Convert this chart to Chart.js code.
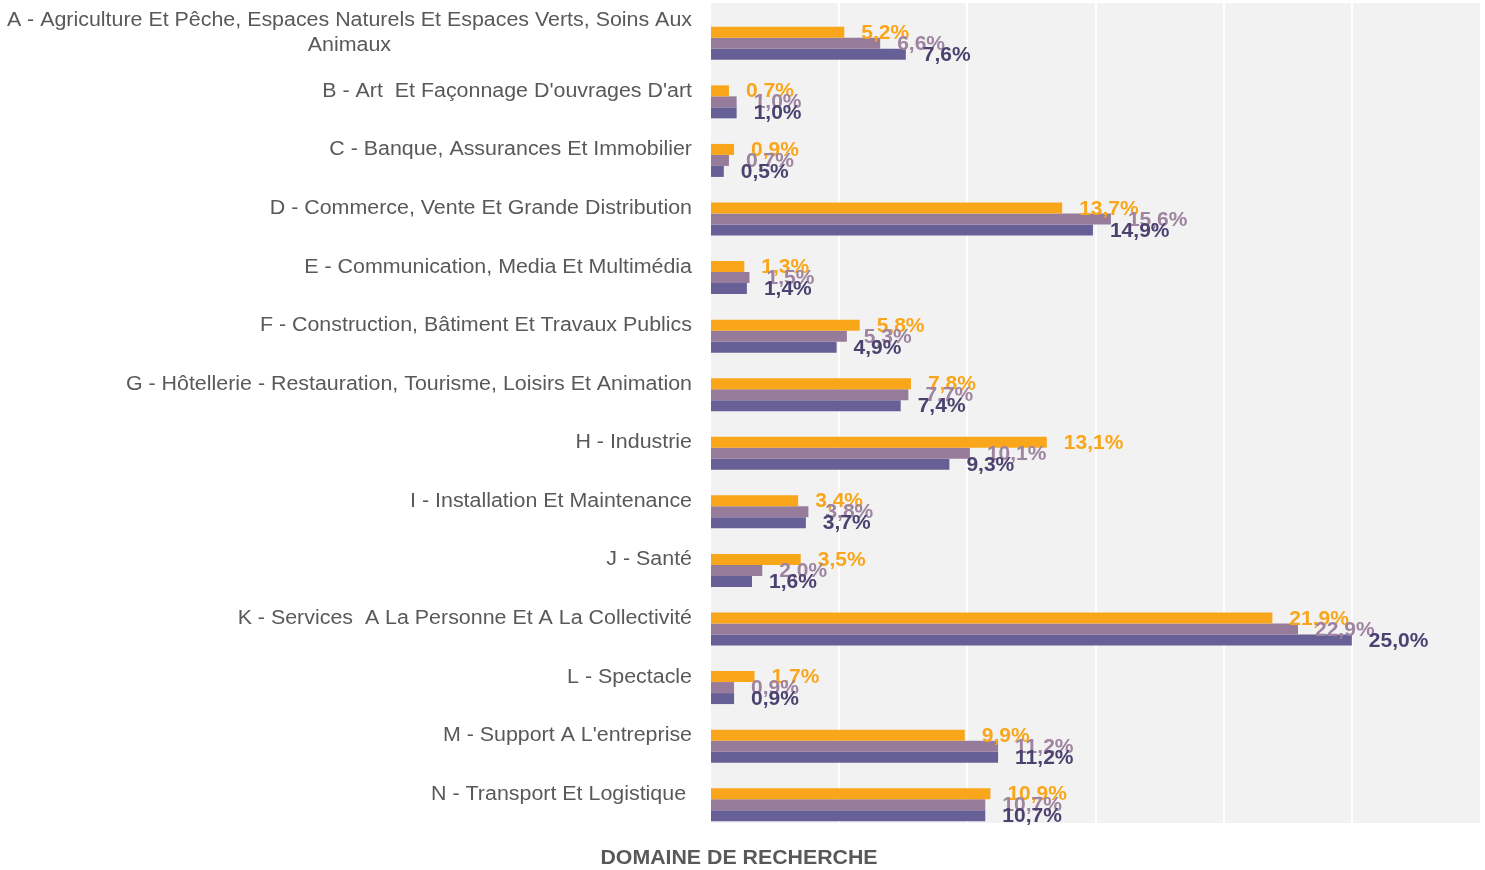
<!DOCTYPE html>
<html><head><meta charset="utf-8">
<script src="https://cdn.jsdelivr.net/npm/chart.js@4/dist/chart.umd.min.js"></script>
<style>html,body{margin:0;padding:0;background:#fff;}#wrap{width:1485px;height:870px;position:relative;}</style>
</head><body><div id="wrap"><canvas id="c"></canvas></div>
<script>
const categories = [
  ['A - Agriculture Et Pêche, Espaces Naturels Et Espaces Verts, Soins Aux', 'Animaux'],
  "B - Art  Et Façonnage D'ouvrages D'art",
  'C - Banque, Assurances Et Immobilier',
  'D - Commerce, Vente Et Grande Distribution',
  'E - Communication, Media Et Multimédia',
  'F - Construction, Bâtiment Et Travaux Publics',
  'G - Hôtellerie - Restauration, Tourisme, Loisirs Et Animation',
  'H - Industrie',
  'I - Installation Et Maintenance',
  'J - Santé',
  'K - Services  A La Personne Et A La Collectivité',
  'L - Spectacle',
  "M - Support A L'entreprise",
  'N - Transport Et Logistique '
];
const seriesOrange = [5.2, 0.7, 0.9, 13.7, 1.3, 5.8, 7.8, 13.1, 3.4, 3.5, 21.9, 1.7, 9.9, 10.9];
const seriesMauve  = [6.6, 1.0, 0.7, 15.6, 1.5, 5.3, 7.7, 10.1, 3.8, 2.0, 22.9, 0.9, 11.2, 10.7];
const seriesDark   = [7.6, 1.0, 0.5, 14.9, 1.4, 4.9, 7.4, 9.3, 3.7, 1.6, 25.0, 0.9, 11.2, 10.7];
const gridValues = [5, 10, 15, 20, 25];
const axisTitle = 'DOMAINE DE RECHERCHE';

const FONT = '"Liberation Sans", Arial, sans-serif';
const labelColors = ['#F9A61A', '#9E84A0', '#4B4270'];
const fmt = v => v.toFixed(1).replace('.', ',') + '%';
const SHIFT = 11;

// draw text with a slight horizontal stretch
function stretchText(ctx, s, x, y, sx) {
  ctx.save();
  ctx.translate(x, y);
  ctx.scale(sx, 1);
  ctx.fillText(s, 0, 0);
  ctx.restore();
}

const bgPlugin = {
  id: 'bg',
  beforeDatasetsDraw(chart) {
    const {ctx, chartArea: a, scales: {x}} = chart;
    ctx.save();
    ctx.fillStyle = '#F2F2F2';
    ctx.fillRect(a.left, a.top - SHIFT, a.right - a.left, a.bottom - a.top);
    ctx.strokeStyle = '#FFFFFF';
    ctx.lineWidth = 2;
    gridValues.forEach(v => {
      const px = Math.round(x.getPixelForValue(v));
      ctx.beginPath();
      ctx.moveTo(px, a.top - SHIFT);
      ctx.lineTo(px, a.bottom - SHIFT);
      ctx.stroke();
    });
    ctx.restore();
  }
};

const labelPlugin = {
  id: 'labels',
  afterDatasetsDraw(chart) {
    const {ctx, scales: {y}} = chart;
    ctx.save();
    // category labels
    const SX = 1.07;
    ctx.font = '20px ' + FONT;
    ctx.fillStyle = '#595959';
    ctx.textBaseline = 'middle';
    const rightX = 692;
    categories.forEach((c, i) => {
      const cy = y.getPixelForValue(i) - 10.5;
      if (Array.isArray(c)) {
        const w = Math.max(...c.map(s => ctx.measureText(s).width)) * SX;
        const cx = rightX - w / 2;
        ctx.textAlign = 'center';
        const lh = 25;
        c.forEach((s, k) => stretchText(ctx, s, cx, cy + (k - (c.length - 1) / 2) * lh, SX));
      } else {
        ctx.textAlign = 'right';
        stretchText(ctx, c, rightX, cy, SX);
      }
    });
    // value labels
    ctx.font = 'bold 20px ' + FONT;
    ctx.textAlign = 'left';
    chart.data.datasets.forEach((ds, di) => {
      const meta = chart.getDatasetMeta(di);
      ctx.fillStyle = labelColors[di];
      meta.data.forEach((el, i) => {
        stretchText(ctx, fmt(ds.data[i]), el.x + 17, el.y + 1, 1.05);
      });
    });
    // axis title
    ctx.font = 'bold 20px ' + FONT;
    ctx.fillStyle = '#595959';
    ctx.textAlign = 'center';
    stretchText(ctx, axisTitle, 739, 858, 1.066);
    ctx.restore();
  }
};

new Chart(document.getElementById('c'), {
  type: 'bar',
  data: {
    labels: categories,
    datasets: [
      {label: 'Série 1', data: seriesOrange, backgroundColor: '#F9A61A'},
      {label: 'Série 2', data: seriesMauve, backgroundColor: '#977B9B'},
      {label: 'Série 3', data: seriesDark, backgroundColor: '#676096'}
    ]
  },
  options: {
    indexAxis: 'y',
    responsive: true,
    maintainAspectRatio: false,
    animation: false,
    layout: {padding: {left: 711, right: 5, top: 14, bottom: 36}},
    datasets: {bar: {categoryPercentage: 0.5634, barPercentage: 1, borderWidth: 0}},
    scales: {
      x: {display: false, min: 0, max: 30},
      y: {display: false}
    },
    plugins: {
      legend: {display: false},
      tooltip: {enabled: false},
      title: {display: false}
    }
  },
  plugins: [bgPlugin, labelPlugin]
});
</script></body></html>
